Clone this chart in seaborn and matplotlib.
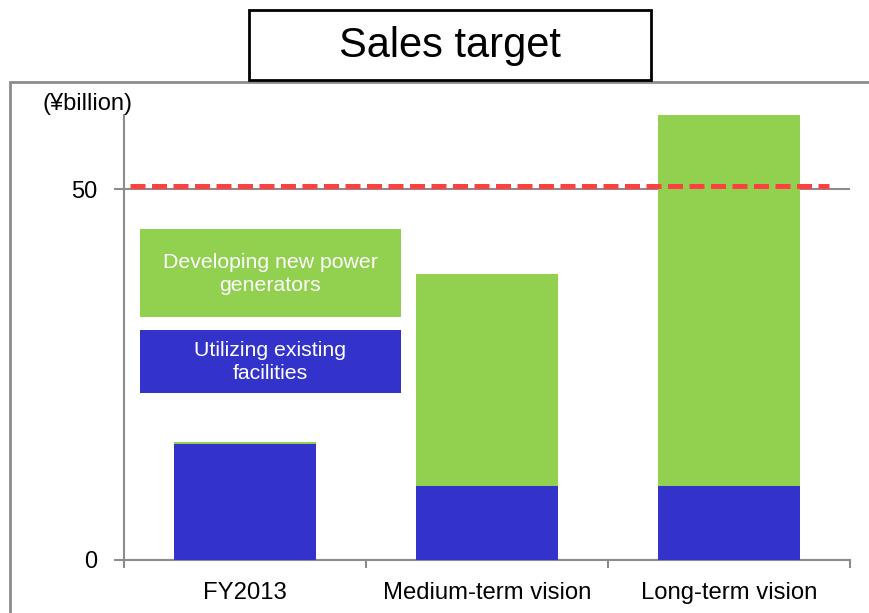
import matplotlib
matplotlib.use("Agg")
import matplotlib.pyplot as plt
import seaborn as sns
import pandas as pd
from matplotlib.patches import Rectangle

categories = ["FY2013", "Medium-term vision", "Long-term vision"]
existing = [15.6, 10.0, 10.0]          # Utilizing existing facilities
new_power = [0.3, 28.5, 50.0]          # Developing new power generators
target = 50.4
yticks = [0, 50]

sns.set_theme(style="white")
plt.rcParams["font.family"] = ["Liberation Sans", "DejaVu Sans"]
plt.rcParams["text.color"] = "black"
plt.rcParams["xtick.color"] = "black"
plt.rcParams["ytick.color"] = "black"
plt.rcParams["xtick.labelcolor"] = "black"
plt.rcParams["ytick.labelcolor"] = "black"

BLUE = "#3333CC"
GREEN = "#92D050"
GRAY = "#8C8C8C"

df = pd.DataFrame({"cat": categories, "existing": existing,
                   "total": [e + n for e, n in zip(existing, new_power)]})

fig = plt.figure(figsize=(8.7, 6.13), dpi=100)
W, H = 870, 613
ax = fig.add_axes([124 / W, 1 - 560 / H, (850 - 124) / W, (560 - 115) / H])

sns.barplot(data=df, x="cat", y="total", order=categories, color=GREEN,
            width=0.59, saturation=1, ax=ax, zorder=2, linewidth=0)
sns.barplot(data=df, x="cat", y="existing", order=categories, color=BLUE,
            width=0.59, saturation=1, ax=ax, zorder=3, linewidth=0)

ax.set_xlim(-0.5, 2.5)
ax.set_ylim(0, 60)
ax.set_xlabel("")
ax.set_ylabel("")
ax.set_yticks(yticks)
ax.set_yticklabels([str(v) for v in yticks], fontsize=17)
ax.yaxis.grid(True, color=GRAY, linewidth=1.5, zorder=1)
ax.set_axisbelow(True)

# category labels at centers; separator ticks as minor ticks
ax.set_xticks(range(len(categories)))
ax.set_xticklabels(categories, fontsize=17.2)
ax.set_xticks([-0.5, 0.5, 1.5, 2.5], minor=True)
ax.tick_params(axis="x", which="major", length=0, pad=16, labelcolor="black")
ax.tick_params(axis="x", which="minor", length=6, width=1.5, color=GRAY, direction="out", bottom=True)
ax.tick_params(axis="y", length=7, width=1.5, color=GRAY, direction="out", left=True, pad=12,
               labelcolor="black")

for s in ["top", "right"]:
    ax.spines[s].set_visible(False)
for s in ["left", "bottom"]:
    ax.spines[s].set_color(GRAY)
    ax.spines[s].set_linewidth(1.5)

ax.axhline(target, xmin=(130 - 124) / 726, xmax=(829 - 124) / 726, color="#FF4040",
           linewidth=3.6, linestyle=(0, (3, 1.3)), zorder=5)

# (¥billion) unit label
fig.text(88 / W, 1 - 104 / H, "(¥billion)", fontsize=17, ha="center", va="center", color="black")

# outer frame
fig.add_artist(Rectangle((10 / W, -0.1), 1.2, 0.1 + (613 - 82) / H, transform=fig.transFigure,
                         fill=False, edgecolor=GRAY, linewidth=2))

# title box
fig.add_artist(Rectangle((249 / W, 1 - 80 / H), (651 - 249) / W, 70 / H, transform=fig.transFigure,
                         facecolor="white", edgecolor="black", linewidth=2, zorder=5))
fig.text(450 / W, 1 - 46 / H, "Sales target", fontsize=30, ha="center", va="center", zorder=6,
         color="black")

# legend boxes
fig.add_artist(Rectangle((140 / W, 1 - 317 / H), (401 - 140) / W, (317 - 229) / H,
                         transform=fig.transFigure, facecolor=GREEN, edgecolor="none"))
fig.text(270 / W, 1 - 274 / H, "Developing new power\ngenerators", fontsize=15.3,
         color="white", ha="center", va="center", linespacing=1.25)
fig.add_artist(Rectangle((140 / W, 1 - 393 / H), (401 - 140) / W, (393 - 330) / H,
                         transform=fig.transFigure, facecolor=BLUE, edgecolor="none"))
fig.text(270 / W, 1 - 362 / H, "Utilizing existing\nfacilities", fontsize=15.3,
         color="white", ha="center", va="center", linespacing=1.25)

fig.savefig("out.png", dpi=100)
